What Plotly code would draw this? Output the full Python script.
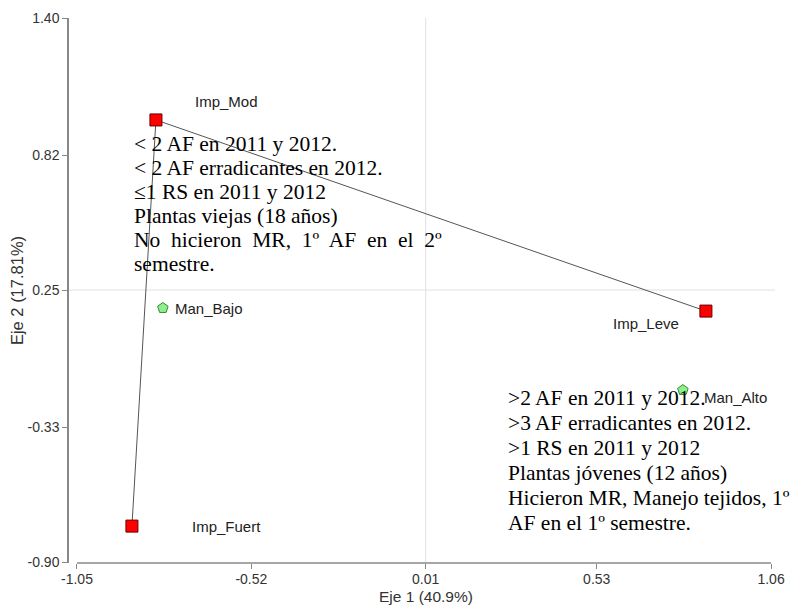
import plotly.graph_objects as go

# coordenadas del biplot (ACM)
imp_names = ["Imp_Leve", "Imp_Mod", "Imp_Fuert"]
imp_x = [0.862, -0.810, -0.883]
imp_y = [0.161, 0.969, -0.748]

man_names = ["Man_Bajo", "Man_Alto"]
man_x = [-0.789, 0.792]
man_y = [0.174, -0.173]

x_ticks = [-1.05, -0.52, 0.01, 0.53, 1.06]
y_ticks = [-0.90, -0.33, 0.25, 0.82, 1.40]

texto_izq = ["< 2 AF en 2011 y 2012.",
             "< 2 AF erradicantes en 2012.",
             "≤1 RS en 2011 y 2012",
             "Plantas viejas (18 años)",
             "No  hicieron  MR,  1º  AF  en  el  2º",
             "semestre."]
texto_der = [">2 AF en 2011 y 2012.",
             ">3 AF erradicantes en 2012.",
             ">1 RS en 2011 y 2012",
             "Plantas jóvenes (12 años)",
             "Hicieron MR, Manejo tejidos, 1º",
             "AF en el 1º semestre."]

fig = go.Figure()

fig.add_trace(go.Scatter(x=imp_x, y=imp_y, mode="lines+markers",
    line=dict(color="#555555", width=1),
    marker=dict(symbol="square", size=12, color="#ff0000",
                line=dict(color="#660000", width=1)),
    hovertext=imp_names, showlegend=False))

fig.add_trace(go.Scatter(x=man_x, y=man_y, mode="markers",
    marker=dict(symbol="pentagon", size=11, color="#90ee90",
                line=dict(color="#2e8b2e", width=1)),
    hovertext=man_names, showlegend=False))

# etiquetas de los puntos
shifts = {"Imp_Leve": (-60, -12), "Imp_Mod": (71, 18), "Imp_Fuert": (95, 0),
          "Man_Bajo": (10, 0), "Man_Alto": (19, -7)}
for n, x, y in zip(imp_names + man_names, imp_x + man_x, imp_y + man_y):
    dx, dy = shifts[n]
    fig.add_annotation(x=x, y=y, text=n, showarrow=False,
        xanchor="left" if n.startswith("Man") else "center",
        xshift=dx, yshift=dy,
        font=dict(family="Liberation Sans, Arial", size=15, color="#222222"))

# bloques de texto
def bloque(lineas, x0, y0, paso):
    for i, t in enumerate(lineas):
        fig.add_annotation(x=x0, y=y0 + i * paso, xref="x", yref="y",
            text=t, showarrow=False, xanchor="left", yanchor="middle",
            font=dict(family="Liberation Serif, Times New Roman", size=21.5, color="#000000"))

bloque(texto_izq, -0.883, 0.866, -0.1015)
bloque(texto_der, 0.254, -0.206, -0.1057)

# titulo del eje x como anotacion (evita choque con las marcas)
fig.add_annotation(x=0.01, y=0, xref="x", yref="paper", yshift=-33,
    text="Eje 1 (40.9%)", showarrow=False, yanchor="middle", borderpad=0,
    font=dict(family="Liberation Sans, Arial", size=15.5, color="#333333"))

fig.add_shape(type="line", xref="x", yref="paper", x0=0.01, x1=0.01, y0=0, y1=1,
    line=dict(color="#e0e0e0", width=1), layer="below")
fig.add_shape(type="line", xref="paper", yref="y", x0=0, x1=1, y0=0.25, y1=0.25,
    line=dict(color="#e0e0e0", width=1), layer="below")
fig.add_shape(type="line", xref="x", yref="paper", x0=-1.05, x1=1.06, y0=0, y1=0,
    line=dict(color="#888888", width=1.5))

# la pagina tiene 8 px de margen en body
fig.update_layout(
    width=791, height=597, plot_bgcolor="white", paper_bgcolor="white",
    margin=dict(l=61, r=24, t=10, b=42),
    font=dict(family="Liberation Sans, Arial", size=14, color="#333333"),
    xaxis=dict(range=[-1.0743, 1.072], tickvals=x_ticks, automargin=False,
               ticktext=["%.2f" % v for v in x_ticks],
               ticks="outside", ticklen=5, tickcolor="#888888",
               ticklabelstandoff=-2,
               showgrid=False, zeroline=False, showline=False),
    yaxis=dict(range=[-0.904, 1.40], tickvals=y_ticks, automargin=False,
               ticktext=["%.2f" % v for v in y_ticks],
               ticks="outside", ticklen=5, tickcolor="#888888",
               showgrid=False, zeroline=False, showline=True,
               linecolor="#888888", linewidth=1.5,
               title=dict(text="Eje 2 (17.81%)", standoff=8, font=dict(size=16.5))),
)

fig.write_html("out.html")
